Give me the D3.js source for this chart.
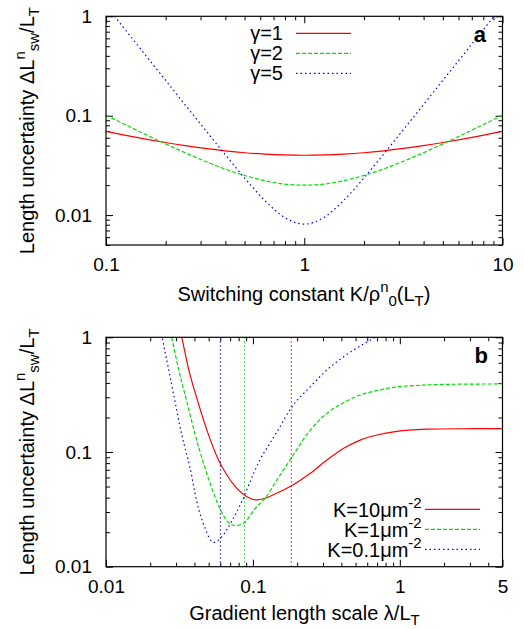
<!DOCTYPE html>
<html><head><meta charset="utf-8">
<script src="https://cdn.jsdelivr.net/npm/d3@7"></script>
<style>body{margin:0;background:#fff} text{font-family:"Liberation Sans",Arial,Helvetica,sans-serif}</style>
</head><body>
<script>
// ---------- Panel a data ----------
const kValues = [0.1,0.1259,0.1585,0.1995,0.2512,0.3162,0.3981,0.5012,0.631,0.7943,1,1.259,1.585,1.995,2.512,3.162,3.981,5.012,6.31,7.943,10];
const gamma1 = [0.0696,0.0635,0.0582,0.0537,0.0499,0.0468,0.0443,0.0424,0.0411,0.0403,0.0400,0.0403,0.0411,0.0424,0.0443,0.0468,0.0499,0.0537,0.0582,0.0635,0.0696];
const gamma2 = [0.101,0.0807,0.0647,0.0521,0.0423,0.0348,0.0291,0.0250,0.0222,0.0205,0.0200,0.0205,0.0222,0.0250,0.0291,0.0348,0.0423,0.0521,0.0647,0.0807,0.101];
const gamma5 = [1.28,0.720,0.405,0.228,0.128,0.0723,0.0409,0.0235,0.0141,0.00948,0.0081,0.00948,0.0141,0.0235,0.0409,0.0723,0.128,0.228,0.405,0.720,1.28];
const legendA = ["γ=1","γ=2","γ=5"];

// ---------- Panel b data ----------
const lamK10 = [0.0316,0.0328,0.0364,0.0422,0.0499,0.0583,0.0665,0.0778,0.091,0.106,0.121,0.141,0.182,0.246,0.319,0.415,0.538,0.70,0.908,1.53,2.51,5];
const valK10 = [1.25,1.0,0.537,0.275,0.141,0.0851,0.063,0.0482,0.0408,0.0382,0.0395,0.043,0.0505,0.0652,0.0851,0.1077,0.127,0.1406,0.150,0.158,0.1595,0.160];
const lamK1 = [0.0263,0.0281,0.0311,0.0355,0.0405,0.0473,0.0569,0.0647,0.0757,0.0863,0.104,0.121,0.148,0.182,0.246,0.319,0.415,0.538,0.70,0.908,1.53,2.51,5];
const valK1 = [1.42,0.98,0.537,0.275,0.141,0.0721,0.0369,0.0264,0.0228,0.0239,0.0323,0.0395,0.059,0.088,0.1555,0.217,0.269,0.314,0.343,0.366,0.384,0.390,0.392];
const lamK01 = [0.0224,0.0242,0.0266,0.0295,0.0328,0.0374,0.0415,0.0473,0.0538,0.0615,0.0719,0.0841,0.0984,0.112,0.131,0.146,0.182,0.246,0.319,0.415,0.538,0.682,0.794];
const valK01 = [1.66,0.98,0.537,0.275,0.141,0.0721,0.0369,0.0216,0.0163,0.0183,0.025,0.037,0.060,0.086,0.120,0.150,0.242,0.371,0.519,0.678,0.840,1.0,1.12];
const optLambda = [0.1825,0.0877,0.060];
const legendB = ["K=10μm","K=1μm","K=0.1μm"];

// ---------- Ticks ----------
const xMajorA = [0.1,1,10], yMajorA = [0.01,0.1,1];
const xMajorB = [0.01,0.1,1,5], yMajorB = [0.01,0.1,1];

const colors = ["#ff0000","#00dd00","#0000ff"];
const dashes = [null,"4,2","1.5,3"];
const FONT = 19, TFONT = 20;

const svg = d3.select("body").append("svg").attr("width",524).attr("height",629);

function isIn(arr,d){return arr.some(m=>Math.abs(m-d)/m<1e-6);}

function panel(opt){
  const {x,y,xMajor,yMajor,id} = opt;
  const [L,R] = x.range(); const [B,T] = y.range();
  const g = svg.append("g");
  g.append("clipPath").attr("id",id).append("rect").attr("x",L).attr("y",T).attr("width",R-L).attr("height",B-T);
  const xt = x.ticks().filter(d=>!isIn(xMajor,d));
  const yt = y.ticks().filter(d=>!isIn(yMajor,d));
  const sides = [
    [d3.axisBottom(x),`translate(0,${B})`,xt,xMajor,true,13],
    [d3.axisTop(x),`translate(0,${T})`,xt,xMajor,false,0],
    [d3.axisLeft(y),`translate(${L},0)`,yt,yMajor,true,14],
    [d3.axisRight(y),`translate(${R},0)`,yt,yMajor,false,0]
  ];
  sides.forEach(([ax,tr,minor,major,lab,pad])=>{
    const gm = g.append("g").attr("transform",tr).call(ax.tickValues(minor).tickSize(-4).tickFormat(""));
    const ga = g.append("g").attr("transform",tr)
      .call(ax.tickValues(major).tickSize(-7).tickPadding(pad).tickFormat(lab?(d=>String(d)):""));
    ga.attr("font-size",FONT).attr("font-family","'Liberation Sans',Arial,sans-serif");
    [gm,ga].forEach(s=>{s.select(".domain").remove(); s.selectAll("line").attr("stroke","#000"); s.selectAll("text").attr("fill","#000");});
  });
  const plot = g.append("g").attr("clip-path",`url(#${id})`);
  return {g,plot,L,R,T,B};
}

function lineSeries(plot,x,y,xs,ys,i){
  const pts = xs.map((v,j)=>[v,ys[j]]);
  plot.append("path").datum(pts)
    .attr("d",d3.line().x(d=>x(d[0])).y(d=>y(d[1])).curve(d3.curveMonotoneX))
    .attr("fill","none").attr("stroke",colors[i]).attr("stroke-width",1.2)
    .attr("stroke-dasharray",dashes[i]);
}

function frame(p){
  p.g.append("rect").attr("x",p.L).attr("y",p.T).attr("width",p.R-p.L).attr("height",p.B-p.T)
    .attr("fill","none").attr("stroke","#000").attr("stroke-width",1.2);
}

function richText(parent, parts, attrs){
  const t = parent.append("text");
  Object.entries(attrs).forEach(([k,v])=>t.attr(k,v));
  let level = 0;
  parts.forEach(([s,lv])=>{
    const target = lv==="sup"?-9:(lv==="sub"?5:0);
    t.append("tspan").attr("dy",target-level).attr("font-size",lv?15:TFONT).text(s);
    level = target;
  });
  return t;
}

// ---------- Panel a ----------
const xA = d3.scaleLog().domain([0.1,10]).range([106,502.5]);
const yA = d3.scaleLog().domain([0.005,1]).range([245,16.3]);
const pA = panel({x:xA,y:yA,xMajor:xMajorA,yMajor:yMajorA,id:"clipA"});
[gamma1,gamma2,gamma5].forEach((s,i)=>lineSeries(pA.plot,xA,yA,kValues,s,i));
frame(pA);
legendA.forEach((s,i)=>{
  const yy = 33.3 + i*20;
  pA.g.append("text").attr("x",283).attr("y",yy+6.7).attr("text-anchor","end").attr("font-size",TFONT).text(s);
  pA.g.append("line").attr("x1",296).attr("x2",351).attr("y1",yy).attr("y2",yy)
    .attr("stroke",colors[i]).attr("stroke-width",1.2).attr("stroke-dasharray",dashes[i]);
});
pA.g.append("text").attr("x",486).attr("y",42).attr("text-anchor","end").attr("font-size",22).attr("font-weight","bold").text("a");
richText(svg,[["Switching constant K/ρ"],["n","sup"],["0","sub"],["(L"],["T","sub"],[")"]],
  {x:304,y:301,"text-anchor":"middle","font-size":TFONT});
richText(svg,[["Length uncertainty ΔL"],["n","sup"],["sw","sub"],["/L"],["T","sub"]],
  {transform:`translate(34,${(16.3+245)/2}) rotate(-90)`,"text-anchor":"middle","font-size":TFONT});

// ---------- Panel b ----------
const xB = d3.scaleLog().domain([0.01,5]).range([106,502.5]);
const yB = d3.scaleLog().domain([0.01,1]).range([566.7,337.3]);
const pB = panel({x:xB,y:yB,xMajor:xMajorB,yMajor:yMajorB,id:"clipB"});
optLambda.forEach((l,i)=>{
  pB.plot.append("line").attr("x1",xB(l)).attr("x2",xB(l)).attr("y1",yB(0.01)).attr("y2",yB(1))
    .attr("stroke",colors[i]).attr("stroke-width",1).attr("stroke-dasharray","1.5,2.5");
});
[[lamK10,valK10],[lamK1,valK1],[lamK01,valK01]].forEach(([xs,ys],i)=>lineSeries(pB.plot,xB,yB,xs,ys,i));
frame(pB);
legendB.forEach((s,i)=>{
  const yy = 509.3 + i*20;
  richText(pB.g,[[s],["-2","sup"]],{x:421.7,y:yy+8,"text-anchor":"end","font-size":TFONT});
  pB.g.append("line").attr("x1",425).attr("x2",480).attr("y1",yy).attr("y2",yy)
    .attr("stroke",colors[i]).attr("stroke-width",1.2).attr("stroke-dasharray",dashes[i]);
});
pB.g.append("text").attr("x",488).attr("y",363).attr("text-anchor","end").attr("font-size",22).attr("font-weight","bold").text("b");
richText(svg,[["Gradient length scale λ/L"],["T","sub"]],
  {x:304.5,y:620,"text-anchor":"middle","font-size":TFONT});
richText(svg,[["Length uncertainty ΔL"],["n","sup"],["sw","sub"],["/L"],["T","sub"]],
  {transform:`translate(34,${(337.3+566.7)/2}) rotate(-90)`,"text-anchor":"middle","font-size":TFONT});
</script></body></html>
